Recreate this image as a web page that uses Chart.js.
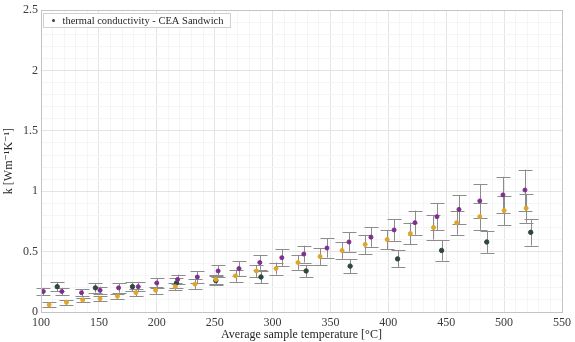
<!DOCTYPE html>
<html>
<head>
<meta charset="utf-8">
<script src="https://cdn.jsdelivr.net/npm/chart.js@4.4.0/dist/chart.umd.min.js"></script>
<style>
  html, body { margin: 0; background: #fff; }
  #wrap { width: 575px; height: 342px; }
</style>
</head>
<body>
<div id="wrap"><canvas id="chart"></canvas></div>
<script>
// ================= DATA =================
const purpleT = [102, 118, 135, 151, 167, 184, 200, 218, 235, 253, 271, 289, 308, 327, 347, 366, 385, 405, 423, 442, 461, 479, 499, 518];
const purpleK = [0.17, 0.17, 0.16, 0.18, 0.20, 0.21, 0.24, 0.27, 0.29, 0.34, 0.36, 0.41, 0.45, 0.48, 0.53, 0.58, 0.62, 0.68, 0.74, 0.79, 0.85, 0.92, 0.97, 1.01];
const purpleErr = [0.03, 0.03, 0.03, 0.03, 0.04, 0.04, 0.04, 0.04, 0.05, 0.05, 0.06, 0.06, 0.07, 0.07, 0.08, 0.08, 0.08, 0.09, 0.10, 0.11, 0.12, 0.14, 0.15, 0.17];

const orangeT = [107, 122, 136, 151, 166, 182, 199, 216, 233, 251, 268, 286, 303, 322, 341, 360, 380, 399, 419, 439, 459, 479, 500, 519];
const orangeK = [0.06, 0.08, 0.10, 0.11, 0.13, 0.16, 0.18, 0.21, 0.23, 0.27, 0.30, 0.34, 0.36, 0.41, 0.46, 0.51, 0.56, 0.60, 0.65, 0.70, 0.74, 0.79, 0.84, 0.86];
const orangeErr = [0.02, 0.02, 0.02, 0.02, 0.02, 0.03, 0.03, 0.03, 0.04, 0.04, 0.05, 0.05, 0.05, 0.06, 0.07, 0.07, 0.08, 0.08, 0.09, 0.10, 0.10, 0.11, 0.12, 0.12];

const darkT = [114, 147, 179, 217, 251, 290, 329, 367, 408, 446, 485, 523];
const darkK = [0.21, 0.20, 0.21, 0.24, 0.26, 0.29, 0.34, 0.38, 0.44, 0.51, 0.58, 0.66];
const darkErr = [0.04, 0.04, 0.04, 0.04, 0.04, 0.05, 0.05, 0.06, 0.07, 0.085, 0.09, 0.11];

const xTicks = [100, 150, 200, 250, 300, 350, 400, 450, 500, 550];
const yTicks = [0, 0.5, 1, 1.5, 2, 2.5];

const FONT = "'Liberation Serif', 'DejaVu Serif', serif";

function toPoints(t, k, e) {
  return t.map((x, i) => ({ x: x, y: k[i], err: e[i] }));
}

// ================= PLUGINS =================
// vertical error bars with caps, drawn under the markers
const errorBars = {
  id: "errorBars",
  beforeDatasetsDraw(chart) {
    const ctx = chart.ctx;
    const xs = chart.scales.x;
    const ys = chart.scales.y;
    ctx.save();
    ctx.strokeStyle = "#8c8c8c";
    ctx.lineWidth = 1;
    chart.data.datasets.forEach((ds) => {
      ds.data.forEach((p) => {
        const px = Math.round(xs.getPixelForValue(p.x)) + 0.5;
        const top = ys.getPixelForValue(p.y + p.err);
        const bot = ys.getPixelForValue(p.y - p.err);
        ctx.beginPath();
        ctx.moveTo(px, top);
        ctx.lineTo(px, bot);
        ctx.moveTo(px - 7, Math.round(top) + 0.5);
        ctx.lineTo(px + 7, Math.round(top) + 0.5);
        ctx.moveTo(px - 7, Math.round(bot) + 0.5);
        ctx.lineTo(px + 7, Math.round(bot) + 0.5);
        ctx.stroke();
      });
    });
    ctx.restore();
  },
};

// axes box + legend box in the upper left corner
const frame = {
  id: "frame",
  afterDatasetsDraw(chart) {
    const ctx = chart.ctx;
    const a = chart.chartArea;
    ctx.save();
    ctx.strokeStyle = "#c4c4c4";
    ctx.lineWidth = 1;
    ctx.strokeRect(Math.round(a.left) + 0.5, Math.round(a.top) + 0.5,
      Math.round(a.right - a.left), Math.round(a.bottom - a.top));

    // legend
    const ds = chart.data.datasets[2];
    const lx = Math.round(a.left) + 2.5;
    const ly = Math.round(a.top) + 3.5;
    ctx.font = "10.5px " + FONT;
    const w = ctx.measureText(ds.label).width + 26;
    ctx.fillStyle = "#ffffff";
    ctx.fillRect(lx, ly, w, 14);
    ctx.strokeStyle = "#cfcfcf";
    ctx.strokeRect(lx, ly, w, 14);
    ctx.fillStyle = ds.backgroundColor;
    ctx.beginPath();
    ctx.arc(lx + 10, ly + 7, 1.5, 0, Math.PI * 2);
    ctx.fill();
    ctx.fillStyle = "#262626";
    ctx.textBaseline = "middle";
    ctx.fillText(ds.label, lx + 19, ly + 7.5);
    ctx.restore();
  },
};

// ================= CHART =================
const onGrid = (v, list) => list.some((t) => Math.abs(t - v) < 1e-6);

new Chart(document.getElementById("chart"), {
  type: "scatter",
  data: {
    datasets: [
      {
        label: "purple",
        data: toPoints(purpleT, purpleK, purpleErr),
        backgroundColor: "#7e2f8e",
        borderColor: "#7e2f8e",
        pointRadius: 2,
      },
      {
        label: "orange",
        data: toPoints(orangeT, orangeK, orangeErr),
        backgroundColor: "#e0a526",
        borderColor: "#e0a526",
        pointRadius: 2,
      },
      {
        label: "thermal conductivity - CEA Sandwich",
        data: toPoints(darkT, darkK, darkErr),
        backgroundColor: "#30473c",
        borderColor: "#30473c",
        pointRadius: 2.2,
      },
    ],
  },
  options: {
    responsive: true,
    maintainAspectRatio: false,
    animation: false,
    layout: { padding: { top: 6, right: 9, left: 0, bottom: 0 } },
    plugins: { legend: { display: false }, tooltip: { enabled: false } },
    scales: {
      x: {
        type: "linear",
        min: 100,
        max: 550,
        afterFit: (s) => { s.height = 30; },
        border: { display: false },
        grid: {
          drawTicks: false,
          color: (c) => (onGrid(c.tick.value, xTicks) ? "#e4e4e4" : "#f5f5f5"),
        },
        ticks: {
          stepSize: 10,
          autoSkip: false,
          maxRotation: 0,
          padding: 4,
          color: "#3a3a3a",
          font: { family: FONT, size: 12 },
          callback: (v) => (onGrid(v, xTicks) ? String(v) : ""),
        },
        title: {
          display: true,
          text: "Average sample temperature [°C]",
          color: "#262626",
          font: { family: FONT, size: 12 },
          padding: { top: 0, bottom: 0 },
        },
      },
      y: {
        min: 0,
        max: 2.5,
        afterFit: (s) => { s.width = 41; },
        border: { display: false },
        grid: {
          drawTicks: false,
          color: (c) => (onGrid(c.tick.value, yTicks) ? "#e4e4e4" : "#f5f5f5"),
        },
        ticks: {
          stepSize: 0.1,
          autoSkip: false,
          padding: 3,
          color: "#3a3a3a",
          font: { family: FONT, size: 12 },
          callback: (v) => (onGrid(v, yTicks) ? String(Math.round(v * 10) / 10) : ""),
        },
        title: {
          display: true,
          text: "k [Wm⁻¹K⁻¹]",
          color: "#262626",
          font: { family: FONT, size: 12 },
          padding: { top: 2, bottom: 0 },
        },
      },
    },
  },
  plugins: [errorBars, frame],
});
</script>
</body>
</html>
